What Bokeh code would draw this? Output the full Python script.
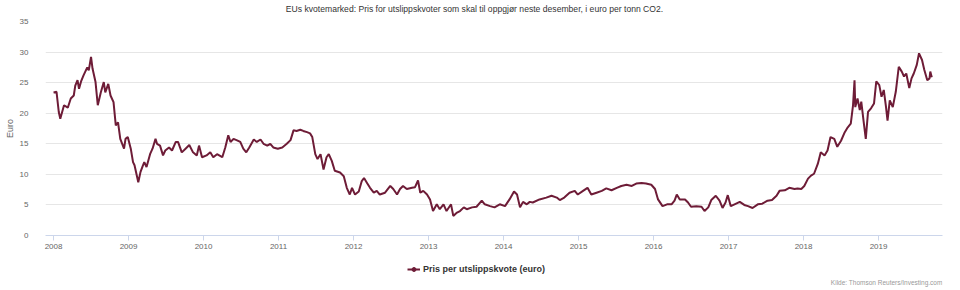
from bokeh.plotting import figure
from bokeh.layouts import column
from bokeh.models import Range1d, FixedTicker, Legend, LegendItem, ColumnDataSource, BasicTickFormatter, Label
from bokeh.embed import file_html
from bokeh.resources import INLINE

# ---- data (decimal year, price in euro) ----
years = [
    2008.00, 2008.04, 2008.07, 2008.09, 2008.14, 2008.19, 2008.23, 2008.27, 2008.29, 2008.32,
    2008.34, 2008.37, 2008.40, 2008.45, 2008.47, 2008.50, 2008.52, 2008.56, 2008.59, 2008.63,
    2008.67, 2008.69, 2008.73, 2008.76, 2008.80, 2008.83, 2008.86, 2008.89, 2008.94, 2008.96,
    2008.99, 2009.03, 2009.06, 2009.08, 2009.13, 2009.16, 2009.19, 2009.21, 2009.24, 2009.29,
    2009.32, 2009.36, 2009.38, 2009.42, 2009.46, 2009.49, 2009.54, 2009.58, 2009.63, 2009.66,
    2009.71, 2009.76, 2009.81, 2009.86, 2009.91, 2009.94, 2009.98, 2010.04, 2010.09, 2010.13,
    2010.18, 2010.25, 2010.29, 2010.33, 2010.36, 2010.40, 2010.44, 2010.49, 2010.53, 2010.57,
    2010.61, 2010.67, 2010.71, 2010.76, 2010.80, 2010.85, 2010.89, 2010.93, 2010.99, 2011.05,
    2011.11, 2011.16, 2011.20, 2011.24, 2011.29, 2011.33, 2011.38, 2011.42, 2011.45, 2011.49,
    2011.52, 2011.56, 2011.60, 2011.64, 2011.67, 2011.71, 2011.75, 2011.82, 2011.87, 2011.91,
    2011.95, 2011.98, 2012.02, 2012.07, 2012.11, 2012.14, 2012.18, 2012.22, 2012.27, 2012.31,
    2012.35, 2012.42, 2012.49, 2012.53, 2012.58, 2012.62, 2012.66, 2012.71, 2012.78, 2012.82,
    2012.86, 2012.89, 2012.93, 2012.98, 2013.02, 2013.06, 2013.11, 2013.15, 2013.20, 2013.24,
    2013.30, 2013.33, 2013.38, 2013.42, 2013.47, 2013.51, 2013.58, 2013.64, 2013.71, 2013.75,
    2013.82, 2013.88, 2013.95, 2014.02, 2014.08, 2014.14, 2014.18, 2014.22, 2014.26, 2014.31,
    2014.35, 2014.39, 2014.48, 2014.57, 2014.64, 2014.71, 2014.75, 2014.81, 2014.88, 2014.95,
    2014.99, 2015.06, 2015.12, 2015.17, 2015.24, 2015.31, 2015.37, 2015.44, 2015.51, 2015.57,
    2015.64, 2015.71, 2015.77, 2015.84, 2015.90, 2015.97, 2016.02, 2016.06, 2016.12, 2016.18,
    2016.24, 2016.28, 2016.31, 2016.35, 2016.42, 2016.46, 2016.50, 2016.57, 2016.64, 2016.68,
    2016.73, 2016.77, 2016.83, 2016.88, 2016.92, 2016.96, 2016.99, 2017.03, 2017.08, 2017.15,
    2017.21, 2017.26, 2017.32, 2017.39, 2017.45, 2017.52, 2017.58, 2017.64, 2017.68, 2017.75,
    2017.81, 2017.88, 2017.92, 2017.97, 2018.01, 2018.06, 2018.10, 2018.14, 2018.19, 2018.23,
    2018.28, 2018.32, 2018.36, 2018.41, 2018.45, 2018.50, 2018.55, 2018.59, 2018.63, 2018.66,
    2018.68, 2018.69, 2018.72, 2018.75, 2018.77, 2018.80, 2018.83, 2018.86, 2018.90, 2018.94,
    2018.97, 2019.01, 2019.04, 2019.07, 2019.10, 2019.12, 2019.15, 2019.19, 2019.23, 2019.27,
    2019.31, 2019.34, 2019.37, 2019.41, 2019.44, 2019.47, 2019.51, 2019.54, 2019.58, 2019.61,
    2019.65, 2019.68, 2019.69, 2019.71,
]
prices = [
    23.4, 23.5, 20.2, 19.1, 21.3, 20.9, 22.4, 22.9, 24.5, 25.4,
    24.0, 25.3, 26.2, 27.5, 27.0, 29.2, 27.3, 25.1, 21.3, 23.4,
    25.1, 23.4, 24.8, 22.9, 21.8, 18.0, 18.5, 15.8, 14.2, 15.8,
    16.1, 14.2, 12.0, 11.5, 8.7, 10.4, 11.4, 12.0, 11.2, 13.4,
    14.2, 15.8, 15.0, 14.7, 13.1, 13.9, 14.4, 13.9, 15.3, 15.3,
    13.6, 14.2, 14.8, 13.6, 13.1, 14.7, 12.8, 13.1, 13.6, 12.8,
    13.3, 12.8, 14.4, 16.4, 15.3, 15.8, 15.6, 15.3, 14.2, 13.6,
    14.4, 15.7, 15.3, 15.7, 15.0, 14.7, 15.0, 14.4, 14.2, 14.4,
    15.0, 15.6, 17.2, 17.1, 17.3, 17.1, 16.9, 16.7, 16.1, 13.3,
    12.5, 13.3, 10.8, 12.8, 13.3, 12.2, 10.6, 10.3, 9.7, 7.8,
    6.7, 7.8, 6.7, 7.2, 8.9, 9.4, 8.6, 7.8, 7.0, 7.3,
    6.7, 7.0, 8.1, 7.6, 6.7, 7.6, 8.1, 7.6, 7.8, 7.9,
    9.0, 7.0, 7.3, 6.7, 5.9, 4.0, 5.1, 4.3, 5.1, 4.0,
    5.1, 3.2, 3.75, 4.0, 4.6, 4.3, 4.6, 4.7, 5.7, 5.1,
    4.8, 4.6, 5.1, 4.8, 5.9, 7.2, 6.7, 4.6, 5.5, 5.1,
    5.5, 5.4, 5.9, 6.2, 6.5, 6.2, 5.8, 6.2, 7.0, 7.3,
    6.7, 7.3, 7.8, 6.7, 7.0, 7.3, 7.7, 7.4, 7.8, 8.1,
    8.3, 8.1, 8.5, 8.6, 8.5, 8.3, 7.6, 5.9, 4.8, 5.1,
    5.1, 5.7, 6.7, 5.9, 5.9, 5.4, 4.7, 4.8, 4.7, 4.0,
    4.6, 5.8, 6.5, 5.7, 4.5, 5.4, 6.6, 4.8, 5.1, 5.5,
    5.0, 4.8, 4.5, 5.1, 5.2, 5.7, 5.8, 6.5, 7.3, 7.4,
    7.8, 7.6, 7.7, 7.6, 8.1, 9.3, 9.8, 10.1, 11.7, 13.6,
    13.1, 13.9, 16.1, 15.8, 14.5, 15.5, 16.9, 17.7, 18.3, 21.3,
    25.4, 21.0, 22.4, 20.5, 21.9, 18.8, 15.8, 20.2, 20.8, 21.6,
    25.2, 24.6, 22.7, 23.8, 21.0, 18.8, 22.1, 21.0, 23.5, 27.6,
    26.8, 26.0, 26.5, 24.1, 25.7, 26.5, 27.9, 29.8, 28.7, 27.1,
    25.4, 25.7, 26.8, 25.9,
]
x_ticks = list(range(2008, 2020))
y_ticks = [0, 5, 10, 15, 20, 25, 30, 35]
title_text = "EUs kvotemarked: Pris for utslippskvoter som skal til oppgjør neste desember, i euro per tonn CO2."
series_name = "Pris per utslippskvote (euro)"
y_label = "Euro"
source_text = "Kilde: Thomson Reuters/Investing.com"

LINE = "#6e1c37"
FONT = "Liberation Sans"
X0, X1 = 2007.893, 2019.853
xr = Range1d(X0, X1)

# ---------------- title strip ----------------
t = figure(width=960, height=15, output_backend="svg", toolbar_location=None,
           x_range=xr, y_range=Range1d(0, 15), x_axis_location=None, y_axis_location=None,
           min_border_left=0, min_border_right=0, min_border_top=0, min_border_bottom=0)
t.grid.visible = False
t.outline_line_color = None
t.border_fill_color = "white"
t.background_fill_color = "white"
t.add_layout(Label(x=2013.613, y=7, text=title_text, text_align="center", text_baseline="middle",
                   text_font=FONT, text_font_size="8.6px", text_color="#333333"))

# ---------------- main chart ----------------
p = figure(width=960, height=240, output_backend="svg", toolbar_location=None,
           x_range=xr, y_range=Range1d(0, 35),
           min_border_left=45, min_border_right=18, min_border_top=6, min_border_bottom=20)
p.outline_line_color = None
p.background_fill_color = "white"
p.border_fill_color = "white"

src = ColumnDataSource(dict(x=years, y=prices))
p.line("x", "y", source=src, line_color=LINE, line_width=2)

p.xaxis.ticker = FixedTicker(ticks=x_ticks)
p.xaxis.formatter = BasicTickFormatter(use_scientific=False)
p.xaxis.axis_line_color = "#ccd6eb"
p.xaxis.major_tick_line_color = "#ccd6eb"
p.xaxis.major_tick_out = 5
p.xaxis.major_tick_in = 0
p.xaxis.minor_tick_line_color = None
p.xaxis.major_label_text_font = FONT
p.xaxis.major_label_text_font_size = "8px"
p.xaxis.major_label_text_color = "#666666"
p.xaxis.major_label_standoff = 3

p.yaxis.ticker = FixedTicker(ticks=y_ticks)
p.yaxis.axis_line_color = None
p.yaxis.major_tick_line_color = None
p.yaxis.minor_tick_line_color = None
p.yaxis.major_label_text_font = FONT
p.yaxis.major_label_text_font_size = "8px"
p.yaxis.major_label_text_color = "#666666"
p.yaxis.major_label_standoff = 11
p.yaxis.axis_label = y_label
p.yaxis.axis_label_text_font = FONT
p.yaxis.axis_label_text_font_size = "9px"
p.yaxis.axis_label_text_font_style = "normal"
p.yaxis.axis_label_text_color = "#666666"
p.yaxis.axis_label_standoff = 2

p.xgrid.grid_line_color = None
p.ygrid.ticker = FixedTicker(ticks=y_ticks[1:])
p.ygrid.grid_line_color = "#e6e6e6"
p.ygrid.grid_line_width = 1

# ---------------- legend / source strip ----------------
f = figure(width=960, height=35, output_backend="svg", toolbar_location=None,
           x_range=xr, y_range=Range1d(0, 35),
           x_axis_location=None, y_axis_location=None,
           min_border_left=0, min_border_right=0, min_border_top=0, min_border_bottom=0)
f.grid.visible = False
f.outline_line_color = None
f.border_fill_color = "white"
f.background_fill_color = "white"
nan = float("nan")
leg_src = ColumnDataSource(dict(x=[nan], y=[nan]))
lr = f.line("x", "y", source=leg_src, line_color=LINE, line_width=2)
mr = f.scatter("x", "y", source=leg_src, marker="circle", size=7, fill_color=LINE, line_color=LINE)

legend = Legend(items=[LegendItem(label=series_name, renderers=[lr, mr])],
                location=(362, 16), orientation="horizontal",
                label_text_font=FONT, label_text_font_size="9px", label_text_font_style="bold",
                label_text_color="#333333", glyph_width=13, glyph_height=10,
                label_standoff=3, padding=0, margin=0, spacing=0,
                border_line_color=None, background_fill_alpha=0)
f.add_layout(legend, "center")

f.add_layout(Label(x=X1, y=8, text=source_text, text_align="right", text_baseline="middle",
                   text_font=FONT, text_font_size="6.5px", text_color="#999999"))

open("out.html", "w").write(file_html(column(t, p, f, spacing=0), INLINE))
